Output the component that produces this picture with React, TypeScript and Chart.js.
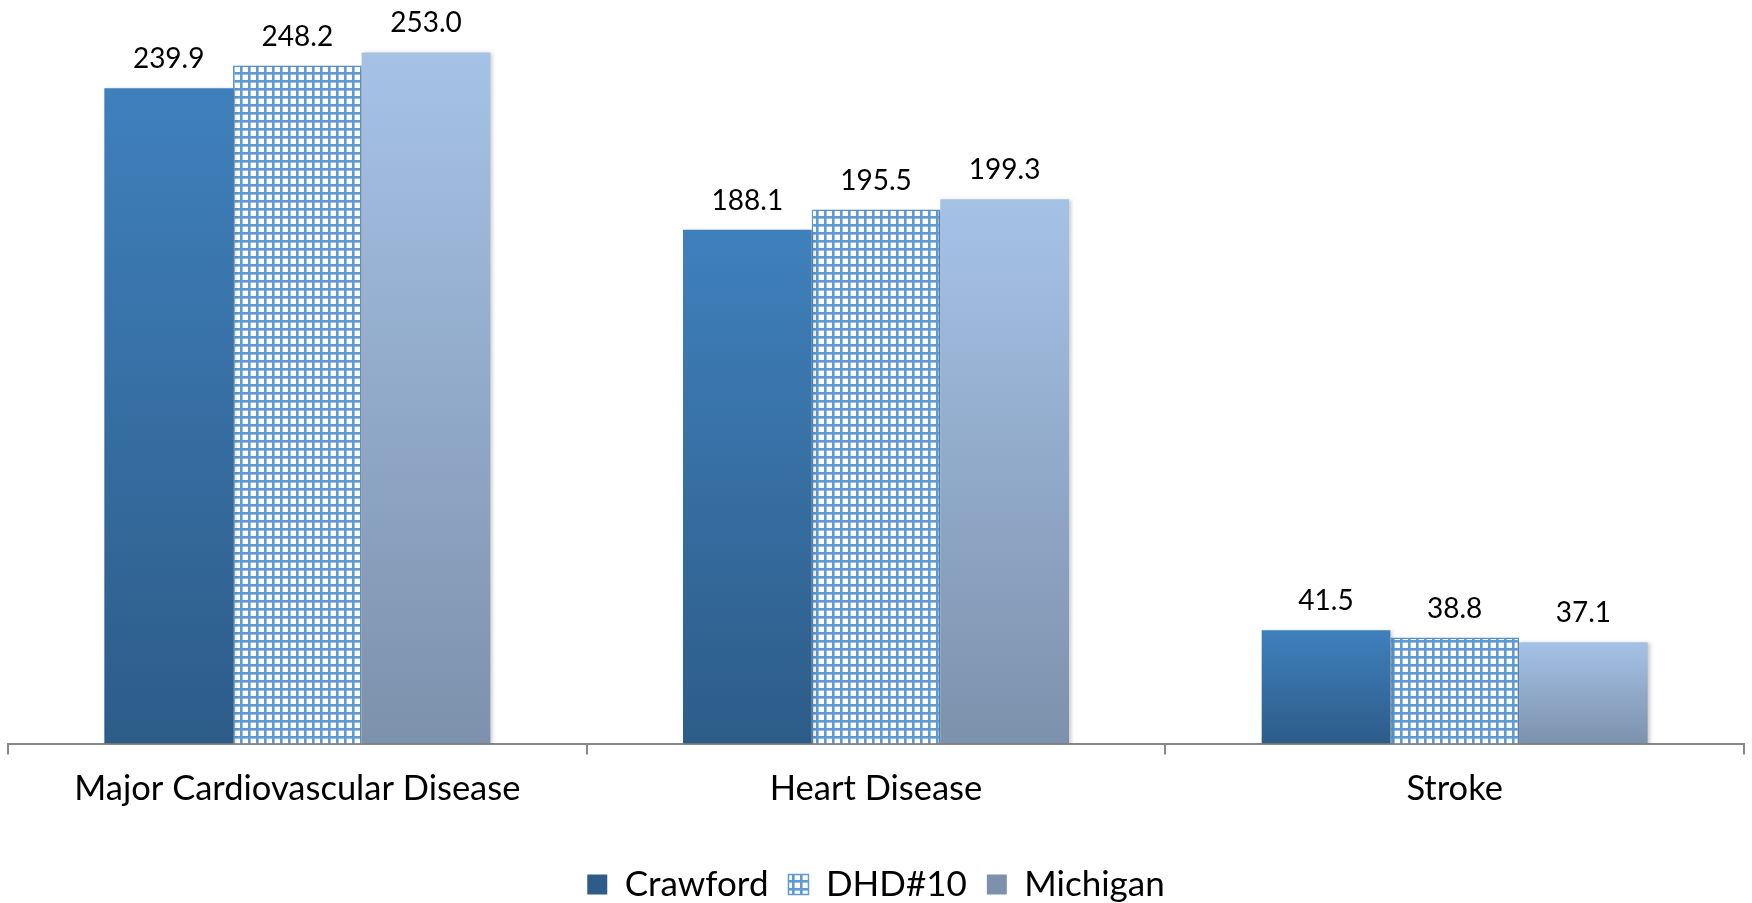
import React, { useEffect, useRef } from 'react';
import { Chart, registerables } from 'chart.js';

Chart.register(...registerables);

const categories = ['Major Cardiovascular Disease', 'Heart Disease', 'Stroke'];
const seriesNames = ['Crawford', 'DHD#10', 'Michigan'];
const crawfordValues = [239.9, 188.1, 41.5];
const dhdValues = [248.2, 195.5, 38.8];
const michiganValues = [253.0, 199.3, 37.1];
const yAxisMax = 270;

const FONT = 'Lato, "Open Sans", sans-serif';

function makeGradient(context: any, topColor: string, bottomColor: string) {
  const chart = context.chart;
  const c = chart.ctx;
  if (context.type === 'data' && chart.scales && chart.scales.y) {
    const y = chart.scales.y;
    const y0 = y.getPixelForValue(context.raw);
    const y1 = y.getPixelForValue(0);
    if (!isFinite(y0) || !isFinite(y1) || y1 - y0 < 1) return topColor;
    const g = c.createLinearGradient(0, y0, 0, y1);
    g.addColorStop(0, topColor);
    g.addColorStop(1, bottomColor);
    return g;
  }
  const g = c.createLinearGradient(0, chart.height - 29, 0, chart.height - 9);
  g.addColorStop(0, topColor);
  g.addColorStop(1, bottomColor);
  return g;
}

function makePattern(): CanvasPattern | string {
  const p = document.createElement('canvas');
  p.width = 8;
  p.height = 8;
  const pc = p.getContext('2d');
  if (!pc) return '#5B9BD5';
  pc.fillStyle = '#ffffff';
  pc.fillRect(0, 0, 8, 8);
  pc.fillStyle = '#5E9BD3';
  pc.fillRect(0, 0, 8, 2.6);
  pc.fillRect(0, 0, 2.6, 8);
  return pc.createPattern(p, 'repeat') || '#5B9BD5';
}

const valueLabelPlugin = {
  id: 'valueLabels',
  afterDatasetsDraw(chart: any) {
    const { ctx } = chart;
    ctx.save();
    ctx.font = `28px ${FONT}`;
    ctx.fillStyle = '#000000';
    ctx.textAlign = 'center';
    ctx.textBaseline = 'alphabetic';
    chart.data.datasets.forEach((ds: any, i: number) => {
      const meta = chart.getDatasetMeta(i);
      meta.data.forEach((el: any, j: number) => {
        ctx.fillText(Number(ds.data[j]).toFixed(1), el.x, el.y - 20);
      });
    });
    ctx.restore();
  },
};

const shadowPlugin = {
  id: 'barShadow',
  beforeDatasetDraw(chart: any) {
    const ctx = chart.ctx;
    ctx.save();
    ctx.shadowColor = 'rgba(0,0,0,0.22)';
    ctx.shadowBlur = 4;
    ctx.shadowOffsetX = 2;
    ctx.shadowOffsetY = 1;
  },
  afterDatasetDraw(chart: any) {
    chart.ctx.restore();
  },
};

export default function App() {
  const canvasRef = useRef<HTMLCanvasElement | null>(null);

  useEffect(() => {
    let chart: Chart | null = null;
    let cancelled = false;
    const build = () => {
      if (cancelled || !canvasRef.current) return;
      const pattern = makePattern();
      chart = new Chart(canvasRef.current, {
        type: 'bar',
        data: {
          labels: categories,
          datasets: [
            {
              label: seriesNames[0],
              data: crawfordValues,
              backgroundColor: (ctx: any) => makeGradient(ctx, '#3F80BC', '#2D5C88'),
              borderWidth: 0,
            },
            {
              label: seriesNames[1],
              data: dhdValues,
              backgroundColor: pattern as any,
              borderColor: '#5E9BD3',
              borderWidth: 1.5,
            },
            {
              label: seriesNames[2],
              data: michiganValues,
              backgroundColor: (ctx: any) => makeGradient(ctx, '#A5C2E6', '#7D91AC'),
              borderWidth: 0,
            },
          ],
        },
        options: {
          responsive: false,
          animation: false,
          devicePixelRatio: 1,
          layout: { padding: { left: 8, right: 8, top: 6, bottom: -9 } },
          datasets: {
            bar: { barPercentage: 1.0, categoryPercentage: 0.667 },
          },
          scales: {
            x: {
              type: 'category',
              grid: {
                offset: true,
                drawOnChartArea: false,
                drawTicks: true,
                tickLength: 11,
                color: '#878787',
                lineWidth: 2,
              },
              border: { display: true, color: '#878787', width: 2 },
              ticks: {
                color: '#000000',
                padding: 14,
                font: { family: FONT, size: 34.5 },
              },
              afterFit: (scale: any) => {
                scale.height += 23;
              },
            },
            y: {
              display: false,
              min: 0,
              max: yAxisMax,
            },
          },
          plugins: {
            legend: {
              position: 'bottom',
              labels: {
                boxWidth: 20,
                boxHeight: 20,
                padding: 20,
                color: '#000000',
                font: { family: FONT, size: 35 },
              },
            },
            tooltip: { enabled: false },
          },
        },
        plugins: [shadowPlugin, valueLabelPlugin],
      });
    };
    const fonts: any = (document as any).fonts;
    if (fonts && fonts.load) {
      Promise.all([fonts.load(`35px Lato`), fonts.load(`28px Lato`)]).then(build, build);
    } else {
      build();
    }
    return () => {
      cancelled = true;
      if (chart) chart.destroy();
    };
  }, []);

  return (
    <div style={{ position: 'fixed', left: 0, top: 0, width: 1752, height: 903, background: '#ffffff' }}>
      <canvas ref={canvasRef} width={1752} height={903} />
    </div>
  );
}
